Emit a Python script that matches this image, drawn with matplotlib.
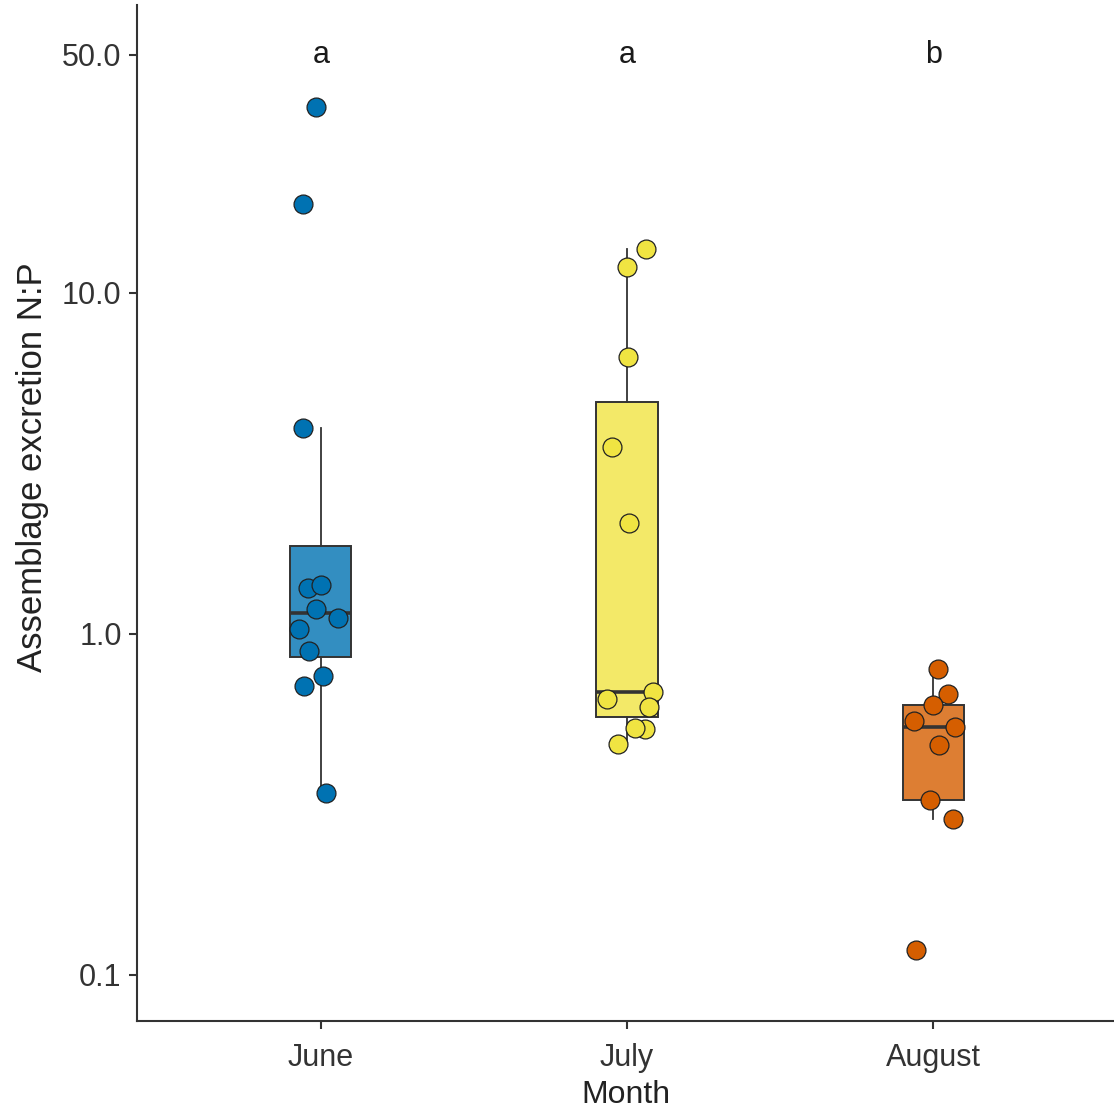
import matplotlib
matplotlib.use("Agg")
import matplotlib.pyplot as plt
import numpy as np
from matplotlib import cbook

plt.rcParams["font.family"] = ["Liberation Sans", "DejaVu Sans"]

months = ["June", "July", "August"]
colors = ["#0072B2", "#F0E442", "#D55E00"]
letters = ["a", "a", "b"]

june = [35.1, 18.2, 4.02, 1.367, 1.389, 1.186, 1.116, 1.032, 0.893, 0.753, 0.704, 0.342]
july = [13.5, 11.9, 6.49, 3.53, 2.11, 0.643, 0.677, 0.612, 0.528, 0.531, 0.476]
august = [0.789, 0.665, 0.619, 0.557, 0.535, 0.472, 0.326, 0.287, 0.118]

# horizontal jitter (category units)
june_jit = [-0.016, -0.059, -0.058, -0.042, 0.002, -0.015, 0.057, -0.072, -0.037, 0.007, -0.055, 0.017]
july_jit = [0.062, -0.001, 0.002, -0.048, 0.008, -0.065, 0.084, 0.073, 0.059, 0.027, -0.031]
august_jit = [0.016, 0.049, -0.002, -0.062, 0.072, 0.017, -0.010, 0.065, -0.056]

yticks = [0.1, 1.0, 10.0, 50.0]

groups = [june, july, august]
jitters = [june_jit, july_jit, august_jit]
pos = np.arange(1, len(months) + 1)

fig = plt.figure(figsize=(11.14, 11.18), dpi=100)
ax = fig.add_axes([0.123, 0.0868, 0.877, 0.9087])
ax.set_yscale("log")

# box stats on the log scale (as ggplot does with scale_y_log10)
stats = []
for vals in groups:
    s = cbook.boxplot_stats(np.log10(vals), whis=1.5)[0]
    for k in ("med", "q1", "q3", "whislo", "whishi", "mean"):
        s[k] = 10 ** s[k]
    s["fliers"] = []
    stats.append(s)

bp = ax.bxp(
    stats,
    positions=pos,
    widths=0.2,
    patch_artist=True,
    showfliers=False,
    showcaps=False,
    boxprops=dict(edgecolor="#333333", linewidth=1.4),
    whiskerprops=dict(color="#333333", linewidth=1.3),
    medianprops=dict(color="#333333", linewidth=2.6),
    zorder=2,
)
for patch, c in zip(bp["boxes"], colors):
    patch.set_facecolor(matplotlib.colors.to_rgba(c, 0.8))

for p, vals, jit, c in zip(pos, groups, jitters, colors):
    ax.scatter(
        p + np.array(jit),
        vals,
        s=185,
        color=c,
        edgecolor="#222222",
        linewidth=0.9,
        zorder=3,
    )

for p, lab in zip(pos, letters):
    ax.text(p, 50.0, lab, ha="center", va="center", fontsize=22, color="#1a1a1a")

ax.set_xlim(0.4, 3.59)
ax.set_ylim(0.0733, 69.9)
ax.set_xticks(pos)
ax.set_xticklabels(months)
ax.set_yticks(yticks)
ax.set_yticklabels([f"{v:.1f}" for v in yticks])
ax.yaxis.set_minor_locator(matplotlib.ticker.NullLocator())

for side in ("top", "right"):
    ax.spines[side].set_visible(False)
for side in ("left", "bottom"):
    ax.spines[side].set_color("#333333")
    ax.spines[side].set_linewidth(1.5)

ax.tick_params(axis="both", length=6, width=1.5, color="#333333",
               labelsize=22, labelcolor="#333333")
ax.tick_params(axis="x", pad=10)
ax.tick_params(axis="y", pad=5)

ax.set_xlabel("Month", fontsize=23, color="#222222", labelpad=5)
ax.set_ylabel("Assemblage excretion N:P", fontsize=25, color="#222222")
ax.yaxis.set_label_coords(-0.09, 0.545)

fig.savefig("out.png", dpi=100)
plt.close(fig)
